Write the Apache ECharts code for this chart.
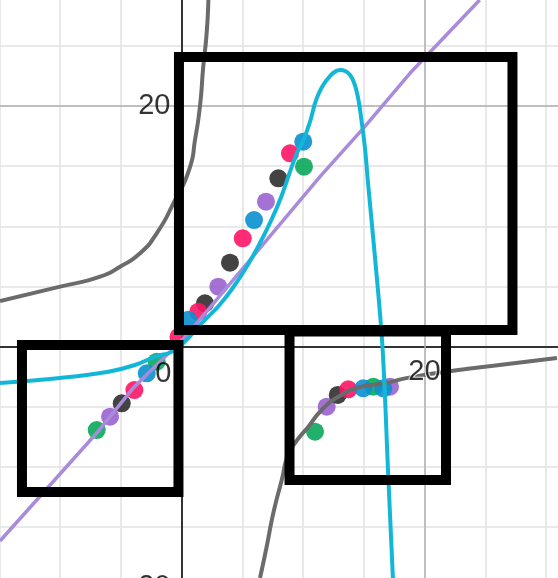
<!DOCTYPE html>
<html><head><meta charset="utf-8">
<script src="https://cdn.jsdelivr.net/npm/echarts@6/dist/echarts.min.js"></script>
<style>html,body{margin:0;padding:0;background:#fff;}#c{width:558px;height:578px;}</style>
</head><body><div id="c"></div>
<script>
// ---- data (in graph units) ----
const xRange = [-15, 35];
const yRange = [-20, 30];
const gridStep = 5;
const majorLines = [20];
const xTickLabels = [20];
const yTickLabels = [20, -20];
const originLabel = '0';

const purpleLine = [[-14.94,-16.18],[-6.85,-7.05],[-3.97,-3.45],[0.37,0.87],[11.4,14.13],[14.96,18.15],[18.8,22.73],[24.54,28.83]];
const grayLeft = [[-14.94,3.79],[-9.99,4.98],[-6.7,5.81],[-5.06,6.64],[-3.42,7.75],[-2.04,9.42],[-0.67,11.91],[0.70,14.93],[1.11,17.18],[1.52,20.0],[1.79,23.28],[2.07,26.08],[2.21,28.83]];
const grayRight = [[6.46,-19.26],[7.01,-16.66],[7.56,-13.85],[8.25,-11.1],[8.77,-9.0],[9.34,-8.03],[10.44,-6.67],[11.54,-5.28],[12.9,-4.18],[14.83,-3.34],[16.75,-3.06],[18.4,-2.65],[22.2,-2.04],[25.5,-1.62],[30.9,-0.96]];
const cyanCurve = [[-14.94,-3.04],[-10.0,-2.62],[-6.02,-2.10],[-3.83,-1.54],[-2.18,-0.85],[-0.53,-0.29],[1.91,2.2],[3.0,3.31],[4.1,4.7],[5.2,6.36],[6.3,8.3],[7.39,10.52],[8.21,12.46],[9.42,15.9],[10.04,17.18],[10.58,18.7],[11.13,20.65],[11.95,22.17],[13.05,23.0],[13.87,22.59],[14.42,21.2],[14.83,18.7],[15.1,16.5],[15.37,13.4],[16.17,4.7],[16.58,-0.68],[17.0,-10.36],[17.4,-19.26]];

const greenPts  = [[-6.98,-6.95],[-2.04,-1.26],[10.08,14.96],[10.99,-7.09],[15.79,-3.34]];
const purplePts = [[-5.88,-5.84],[3.03,4.98],[6.95,12.05],[11.95,-5.01],[17.16,-3.34]];
const blackPts  = [[-4.92,-4.73],[1.93,3.59],[3.99,6.97],[7.97,13.99],[12.86,-4.03]];
const pinkPts   = [[-3.88,-3.62],[-0.25,0.8],[1.38,2.90],[5.04,9.0],[8.93,16.07],[13.73,-3.56]];
const bluePts   = [[-2.86,-2.23],[0.56,2.23],[5.97,10.52],[10.02,17.04],[14.96,-3.48],[16.61,-3.48]];

// annotation boxes: [x1, y1, x2, y2] in graph units
const annotationBoxes = [[-0.21,24.08,27.24,1.37],[-13.13,0.12,-0.25,-12.1],[8.89,1.25,21.77,-11.11]];

// ---- chart ----
const pxPerX = 12.15, pxPerY = 12.02;
const originPx = [181.5, 346.5];
const gridLeft = originPx[0] + xRange[0]*pxPerX;
const gridTop = originPx[1] - yRange[1]*pxPerY;
const gridW = (xRange[1]-xRange[0])*pxPerX;
const gridH = (yRange[1]-yRange[0])*pxPerY;

const labelFont = {fontFamily:'Liberation Sans, Arial, sans-serif', fontSize:29, color:'#000'};
const haloFont = Object.assign({}, labelFont, {textBorderColor:'#fff', textBorderWidth:2});

function dots(name, data, color){
  return {name, type:'scatter', data, symbolSize:18, z:2,
    itemStyle:{color, opacity:0.9}, emphasis:{disabled:true}};
}
function curve(name, data, color, width, smooth){
  return {name, type:'line', data, showSymbol:false, smooth, z:3,
    lineStyle:{color, width}, emphasis:{disabled:true}};
}

const chart = echarts.init(document.getElementById('c'), null, {renderer:'canvas'});
chart.setOption({
  animation:false,
  backgroundColor:'#fff',
  grid:{left:gridLeft, top:gridTop, width:gridW, height:gridH, containLabel:false, outerBoundsMode:'none'},
  xAxis:{type:'value', min:xRange[0], max:xRange[1], interval:gridStep,
    axisLine:{onZero:true, lineStyle:{color:'#333', width:2}},
    axisTick:{show:false}, axisLabel:{show:false},
    splitLine:{show:true, lineStyle:{color:'#e2e2e2', width:1.5}}},
  yAxis:{type:'value', min:yRange[0], max:yRange[1], interval:gridStep,
    axisLine:{onZero:true, lineStyle:{color:'#333', width:2}},
    axisTick:{show:false}, axisLabel:{show:false},
    splitLine:{show:true, lineStyle:{color:'#e2e2e2', width:1.5}}},
  series:[
    {name:'major', type:'line', data:[], z:1,
      markLine:{silent:true, symbol:'none', z:1, label:{show:false},
        lineStyle:{color:'#b0b0b0', width:1.5, type:'solid'},
        data: majorLines.map(v=>({xAxis:v})).concat(majorLines.map(v=>({yAxis:v})))}},
    dots('green', greenPts, '#0aa85a'),
    dots('purple', purplePts, '#9a62cf'),
    dots('black', blackPts, '#2f2f2f'),
    dots('pink', pinkPts, '#ff1466'),
    dots('blue', bluePts, '#0a90d0'),
    curve('line', purpleLine, '#a98bdb', 3.5, false),
    curve('grayL', grayLeft, '#6b6b6b', 4, 0.6),
    curve('grayR', grayRight, '#6b6b6b', 4, 0.6),
    curve('cyan', cyanCurve, '#12b7d8', 4, 0.4),
    {name:'xLabels', type:'scatter', data:xTickLabels.map(v=>[v,0]), symbolSize:0, z:10,
      label:Object.assign({show:true, position:'bottom', distance:11, formatter:p=>String(p.value[0])}, haloFont)},
    {name:'yLabels', type:'scatter', data:yTickLabels.map(v=>[0,v]), symbolSize:0, z:10,
      label:Object.assign({show:true, position:'left', distance:11,
        formatter:p=>(p.value[1]<0?'\u2212':'')+Math.abs(p.value[1])}, labelFont)},
    {name:'origin', type:'scatter', data:[[0,0]], symbolSize:0, z:10,
      label:Object.assign({show:true, position:[-10,13], align:'right', verticalAlign:'top', formatter:originLabel}, labelFont)},
    {name:'boxes', type:'line', data:[], z:20,
      markArea:{silent:true, z:20, label:{show:false},
        itemStyle:{color:'rgba(0,0,0,0)', borderColor:'#000', borderWidth:10},
        data: annotationBoxes.map(b=>[{coord:[b[0],b[1]]},{coord:[b[2],b[3]]}])}}
  ]
});
</script>
</body></html>
